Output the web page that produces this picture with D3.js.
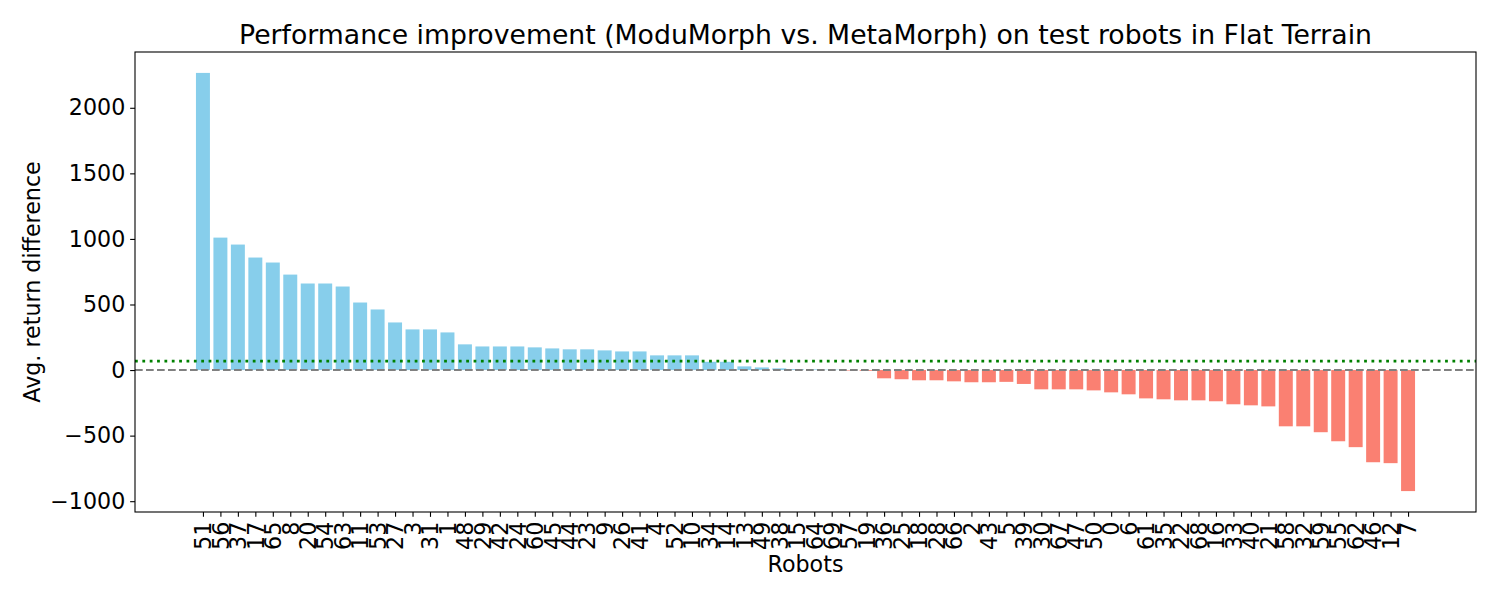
<!DOCTYPE html>
<html>
<head>
<meta charset="utf-8">
<script src="https://cdn.jsdelivr.net/npm/d3@7"></script>
<style>
  body { margin: 0; background: #fff; }
  text { font-family: "DejaVu Sans", sans-serif; fill: #000; }
</style>
</head>
<body>
<svg id="chart" width="1500" height="600"></svg>
<script>
// Robot ids, sorted by improvement (descending)
const robots = [51,56,37,17,65,8,20,54,63,11,53,27,3,31,1,48,29,42,24,60,
  45,44,23,9,26,41,4,52,10,34,14,13,49,38,15,64,69,57,19,36,
  25,18,28,66,2,43,5,39,30,67,47,50,0,6,61,35,22,68,16,33,
  40,21,58,32,59,55,62,46,12,7];
// Avg. return difference (ModuMorph - MetaMorph)
const diffs = [2266,1010,957,858,820,728,660,660,637,515,462,363,310,310,287,196,180,180,180,173,
  165,158,158,150,142,142,112,112,112,63,63,28,20,13,7,5,3,-4,-6,-63,
  -70,-78,-78,-86,-93,-93,-90,-106,-147,-147,-147,-155,-170,-185,-216,-223,-231,-231,-238,-261,
  -269,-277,-429,-429,-474,-543,-588,-703,-710,-923];
const yTicks = [-1000,-500,0,500,1000,1500,2000];

const titleText = "Performance improvement (ModuMorph vs. MetaMorph) on test robots in Flat Terrain";
const xLabel = "Robots";
const yLabel = "Avg. return difference";

const m = {left: 135, right: 1476, top: 52, bottom: 512};
const svg = d3.select("#chart");

const n = robots.length;
const barW = 0.8;
const xMin = -barW/2, xMax = n - 1 + barW/2;
const xPad = (xMax - xMin) * 0.05;
const x = d3.scaleLinear().domain([xMin - xPad, xMax + xPad]).range([m.left, m.right]);

const yMinD = d3.min(diffs), yMaxD = d3.max(diffs);
const yPad = (yMaxD - yMinD) * 0.05;
const y = d3.scaleLinear().domain([yMinD - yPad, yMaxD + yPad]).range([m.bottom, m.top]);

// Bars
svg.append("g").selectAll("rect").data(diffs).join("rect")
  .attr("x", (d, i) => x(i - barW/2))
  .attr("width", (d, i) => x(i + barW/2) - x(i - barW/2))
  .attr("y", d => y(Math.max(0, d)))
  .attr("height", d => Math.abs(y(d) - y(0)))
  .attr("fill", d => d >= 0 ? "#87CEEB" : "#FA8072");

// Zero line (dashed gray)
svg.append("line")
  .attr("x1", m.left).attr("x2", m.right)
  .attr("y1", y(0)).attr("y2", y(0))
  .attr("stroke", "#808080").attr("stroke-width", 2.08)
  .attr("stroke-dasharray", "7.7,3.3");

// Mean line (dotted green)
const meanVal = d3.mean(diffs);
svg.append("line")
  .attr("x1", m.left).attr("x2", m.right)
  .attr("y1", y(meanVal)).attr("y2", y(meanVal))
  .attr("stroke", "#008000").attr("stroke-width", 2.78)
  .attr("stroke-dasharray", "2.78,4.58");

// Y axis
const yAxis = d3.axisLeft(y).tickValues(yTicks).tickSize(4.86).tickPadding(4.86)
  .tickFormat(d3.format("d"));
const gy = svg.append("g").attr("transform", `translate(${m.left},0)`).call(yAxis);
gy.select(".domain").remove();
gy.selectAll("text").attr("font-size", 22.2).attr("font-family", "DejaVu Sans")
  .text(d => d < 0 ? "\u2212" + Math.abs(d) : d);
gy.selectAll("line").attr("stroke", "#000").attr("stroke-width", 1.1);

// X axis
const xAxis = d3.axisBottom(x).tickValues(d3.range(n)).tickSize(4.86).tickPadding(4.86)
  .tickFormat(i => robots[i]);
const gx = svg.append("g").attr("transform", `translate(0,${m.bottom})`).call(xAxis);
gx.select(".domain").remove();
gx.selectAll("line").attr("stroke", "#000").attr("stroke-width", 1.1);
gx.selectAll("text")
  .attr("font-size", 22.2).attr("font-family", "DejaVu Sans")
  .attr("transform", "rotate(-90)")
  .attr("x", -9.7).attr("y", 0).attr("dy", "0.35em")
  .attr("text-anchor", "end");

// Frame
svg.append("rect")
  .attr("x", m.left).attr("y", m.top)
  .attr("width", m.right - m.left).attr("height", m.bottom - m.top)
  .attr("fill", "none").attr("stroke", "#000").attr("stroke-width", 1.1);

// Title & labels
svg.append("text").attr("x", (m.left + m.right)/2).attr("y", 44)
  .attr("text-anchor", "middle").attr("font-size", 26.7).text(titleText);
svg.append("text").attr("x", (m.left + m.right)/2).attr("y", 572)
  .attr("text-anchor", "middle").attr("font-size", 22.2).text(xLabel);
svg.append("text")
  .attr("transform", `translate(40,${(m.top + m.bottom)/2}) rotate(-90)`)
  .attr("text-anchor", "middle").attr("font-size", 22.2).text(yLabel);
</script>
</body>
</html>
